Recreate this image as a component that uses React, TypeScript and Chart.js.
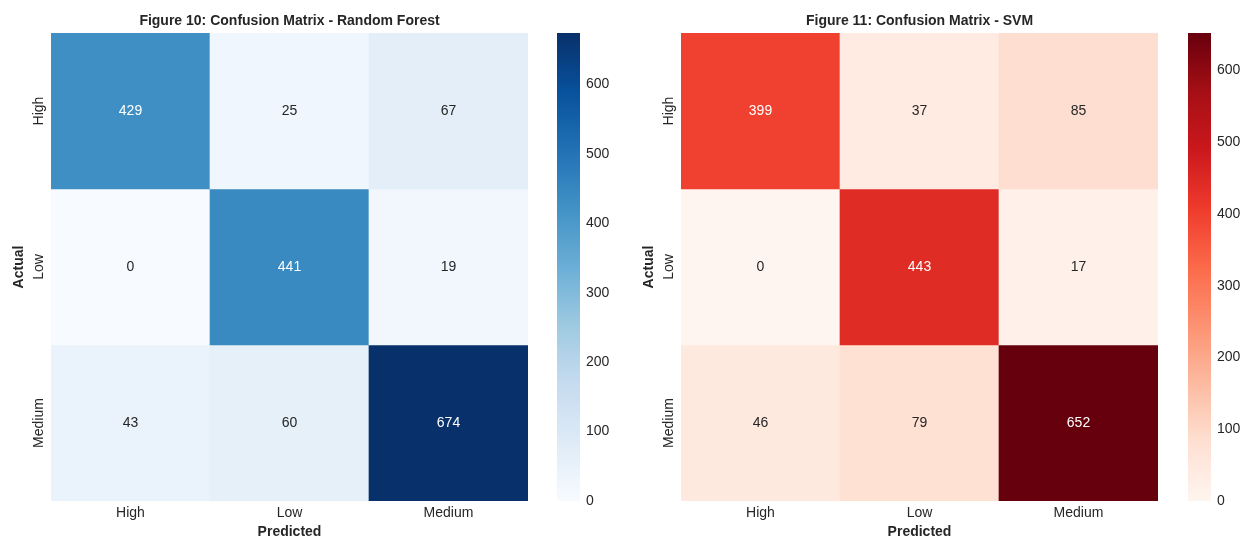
import React, { useEffect, useRef } from "react";
import { Chart, registerables } from "chart.js";

Chart.register(...registerables);

// Class names shared by both axes
const classLabels = ["High", "Low", "Medium"];

// Confusion matrices (rows = actual, columns = predicted)
const rfMatrix = [
  [429, 25, 67],
  [0, 441, 19],
  [43, 60, 674],
];
const svmMatrix = [
  [399, 37, 85],
  [0, 443, 17],
  [46, 79, 652],
];

const rfTitle = "Figure 10: Confusion Matrix - Random Forest";
const svmTitle = "Figure 11: Confusion Matrix - SVM";

// Colour bar tick values
const colorbarTicks = [0, 100, 200, 300, 400, 500, 600];

// Sequential colour maps (ColorBrewer 9-class)
const bluesStops = ["#f7fbff", "#deebf7", "#c6dbef", "#9ecae1", "#6baed6", "#4292c6", "#2171b5", "#08519c", "#08306b"];
const redsStops = ["#fff5f0", "#fee0d2", "#fcbba1", "#fc9272", "#fb6a4a", "#ef3b2c", "#cb181d", "#a50f15", "#67000d"];

const FONT = "'Liberation Sans', Arial, sans-serif";
const TEXT_DARK = "#262626";

function hexToRgb(h: string): number[] {
  const n = parseInt(h.slice(1), 16);
  return [(n >> 16) & 255, (n >> 8) & 255, n & 255];
}

function sampleMap(stops: string[], t: number): number[] {
  const tt = Math.max(0, Math.min(1, t));
  const pos = tt * (stops.length - 1);
  const i = Math.min(stops.length - 2, Math.floor(pos));
  const f = pos - i;
  const a = hexToRgb(stops[i]);
  const b = hexToRgb(stops[i + 1]);
  return [0, 1, 2].map((k) => Math.round(a[k] + (b[k] - a[k]) * f));
}

function rgbStr(c: number[]): string {
  return `rgb(${c[0]}, ${c[1]}, ${c[2]})`;
}

function luminance(c: number[]): number {
  const lin = c.map((v) => {
    const s = v / 255;
    return s <= 0.03928 ? s / 12.92 : Math.pow((s + 0.055) / 1.055, 2.4);
  });
  return 0.2126 * lin[0] + 0.7152 * lin[1] + 0.0722 * lin[2];
}

function matrixMax(m: number[][]): number {
  return Math.max(...m.map((r) => Math.max(...r)));
}

function heatmapConfig(matrix: number[][], stops: string[], title: string): any {
  const vmax = matrixMax(matrix);

  const labelPlugin = {
    id: "heatmapLabels",
    afterDatasetsDraw(chart: any) {
      const ctx = chart.ctx;
      const xs = chart.scales.x;
      const ys = chart.scales.y;
      const area = chart.chartArea;
      ctx.save();
      ctx.textAlign = "center";
      ctx.textBaseline = "middle";

      // cell values
      ctx.font = `14px ${FONT}`;
      matrix.forEach((row, r) => {
        row.forEach((v, c) => {
          const col = sampleMap(stops, v / vmax);
          ctx.fillStyle = luminance(col) > 0.408 ? TEXT_DARK : "#ffffff";
          ctx.fillText(String(v), xs.getPixelForValue(c), ys.getPixelForValue(r + 0.5));
        });
      });

      // row (actual) labels, rotated
      ctx.fillStyle = TEXT_DARK;
      classLabels.forEach((lab, r) => {
        ctx.save();
        ctx.translate(area.left - 12, ys.getPixelForValue(r + 0.5));
        ctx.rotate(-Math.PI / 2);
        ctx.fillText(lab, 0, 0);
        ctx.restore();
      });

      // figure title
      ctx.font = `bold 14px ${FONT}`;
      ctx.fillText(title, (area.left + area.right) / 2, 21);
      ctx.restore();
    },
  };

  return {
    type: "bar",
    data: {
      labels: classLabels,
      datasets: matrix.map((row, r) => ({
        label: classLabels[r],
        data: row.map(() => [r, r + 1]),
        backgroundColor: row.map((v) => rgbStr(sampleMap(stops, v / vmax))),
        borderWidth: 0,
        barPercentage: 1,
        categoryPercentage: 1,
        grouped: false,
      })),
    },
    options: {
      responsive: false,
      animation: false,
      layout: { padding: { top: 33, right: 12, left: 0, bottom: 0 } },
      plugins: {
        legend: { display: false },
        tooltip: { enabled: false },
        title: { display: false },
      },
      scales: {
        x: {
          type: "category",
          offset: true,
          grid: { display: false, drawTicks: false },
          border: { display: false },
          ticks: { font: { family: FONT, size: 14 }, color: TEXT_DARK, padding: 4 },
          title: {
            display: true,
            text: "Predicted",
            font: { family: FONT, size: 14, weight: "bold", lineHeight: 1 },
            color: TEXT_DARK,
            padding: { top: 0, bottom: 0 },
          },
          afterFit: (s: any) => {
            s.height = 38;
          },
        },
        y: {
          type: "linear",
          min: 0,
          max: 3,
          reverse: true,
          grid: { display: false, drawTicks: false },
          border: { display: false },
          ticks: { display: false },
          title: {
            display: true,
            text: "Actual",
            font: { family: FONT, size: 14, weight: "bold" },
            color: TEXT_DARK,
            padding: { top: 11, bottom: 0 },
          },
          afterFit: (s: any) => {
            s.width = 51;
          },
        },
      },
    },
    plugins: [labelPlugin],
  };
}

function colorbarConfig(matrix: number[][], stops: string[]): any {
  const vmax = matrixMax(matrix);
  return {
    type: "bar",
    data: {
      labels: [""],
      datasets: [
        {
          data: [[0, vmax]],
          backgroundColor: (c: any) => {
            const chart = c.chart;
            const ys = chart.scales?.y;
            if (!chart.chartArea || !ys) return stops[0];
            const g = chart.ctx.createLinearGradient(0, ys.getPixelForValue(0), 0, ys.getPixelForValue(vmax));
            stops.forEach((s, i) => g.addColorStop(i / (stops.length - 1), s));
            return g;
          },
          borderWidth: 0,
          barPercentage: 1,
          categoryPercentage: 1,
        },
      ],
    },
    options: {
      responsive: false,
      animation: false,
      layout: { padding: { top: 33, bottom: 38, left: 12, right: 0 } },
      plugins: { legend: { display: false }, tooltip: { enabled: false } },
      scales: {
        x: { display: false },
        y: {
          position: "right",
          min: 0,
          max: vmax,
          grid: { display: false, drawTicks: false },
          border: { display: false },
          ticks: { font: { family: FONT, size: 14 }, color: TEXT_DARK, padding: 6 },
          afterBuildTicks: (s: any) => {
            s.ticks = colorbarTicks.map((v) => ({ value: v }));
          },
          afterFit: (s: any) => {
            s.width = 50;
          },
        },
      },
    },
  };
}

function ChartCanvas({ config, left, width }: { config: () => any; left: number; width: number }) {
  const ref = useRef<HTMLCanvasElement | null>(null);
  useEffect(() => {
    if (!ref.current) return;
    const chart = new Chart(ref.current, config());
    return () => chart.destroy();
  }, []);
  return (
    <canvas
      ref={ref}
      width={width}
      height={539}
      style={{ position: "absolute", left, top: 0, width, height: 539 }}
    />
  );
}

export default function App() {
  return (
    <div style={{ position: "fixed", left: 0, top: 0, width: 1241, height: 539, background: "#ffffff" }}>
      <ChartCanvas left={0} width={540} config={() => heatmapConfig(rfMatrix, bluesStops, rfTitle)} />
      <ChartCanvas left={545} width={85} config={() => colorbarConfig(rfMatrix, bluesStops)} />
      <ChartCanvas left={630} width={540} config={() => heatmapConfig(svmMatrix, redsStops, svmTitle)} />
      <ChartCanvas left={1176} width={85} config={() => colorbarConfig(svmMatrix, redsStops)} />
    </div>
  );
}
